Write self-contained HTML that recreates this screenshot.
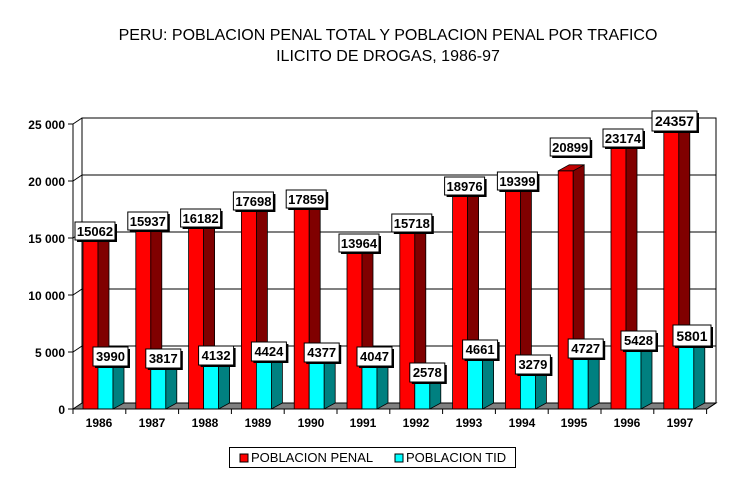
<!DOCTYPE html>
<html><head><style>body{margin:0;background:#fff}svg{display:block}</style></head><body>
<svg width="740" height="488" xmlns="http://www.w3.org/2000/svg" font-family="Liberation Sans, Arial, sans-serif">
<rect width="740" height="488" fill="#fff"/>
<text x="388" y="40" font-size="16" text-anchor="middle">PERU: POBLACION PENAL TOTAL Y POBLACION PENAL POR TRAFICO</text>
<text x="388" y="61" font-size="16" text-anchor="middle">ILICITO DE DROGAS, 1986-97</text>
<!-- back wall -->
<rect x="82" y="118" width="634" height="285" fill="#fff" stroke="#000"/>
<g stroke="#000" stroke-width="1">
<line x1="82" y1="346" x2="716" y2="346"/><line x1="82" y1="289" x2="716" y2="289"/><line x1="82" y1="232" x2="716" y2="232"/><line x1="82" y1="175" x2="716" y2="175"/>
<line x1="73" y1="352" x2="82" y2="346"/><line x1="73" y1="295" x2="82" y2="289"/><line x1="73" y1="238" x2="82" y2="232"/><line x1="73" y1="181" x2="82" y2="175"/><line x1="73" y1="124" x2="82" y2="118"/>
<line x1="82" y1="118" x2="82" y2="403"/>
</g>
<polygon points="73,409 82,403 716,403 707,409" fill="#808080" stroke="#000"/>
<g stroke="#000" stroke-width="0.8">
<!-- bars generated statically -->
<g transform="translate(98,0)"><rect x="-15" y="237.3" width="15" height="171.7" fill="#f00"/><polygon points="0,237.3 11,231.3 11,403 0,409" fill="#800000"/><polygon points="-15,237.3 -4,231.3 11,231.3 0,237.3" fill="#c00000"/><rect x="0" y="363.5" width="15" height="45.5" fill="#0ff"/><polygon points="15,363.5 26,357.5 26,403 15,409" fill="#008080"/><polygon points="0,363.5 11,357.5 26,357.5 15,363.5" fill="#00c0c0"/></g>
<g transform="translate(150.8,0)"><rect x="-15" y="227.3" width="15" height="181.7" fill="#f00"/><polygon points="0,227.3 11,221.3 11,403 0,409" fill="#800000"/><polygon points="-15,227.3 -4,221.3 11,221.3 0,227.3" fill="#c00000"/><rect x="0" y="365.5" width="15" height="43.5" fill="#0ff"/><polygon points="15,365.5 26,359.5 26,403 15,409" fill="#008080"/><polygon points="0,365.5 11,359.5 26,359.5 15,365.5" fill="#00c0c0"/></g>
<g transform="translate(203.6,0)"><rect x="-15" y="224.5" width="15" height="184.5" fill="#f00"/><polygon points="0,224.5 11,218.5 11,403 0,409" fill="#800000"/><polygon points="-15,224.5 -4,218.5 11,218.5 0,224.5" fill="#c00000"/><rect x="0" y="361.9" width="15" height="47.1" fill="#0ff"/><polygon points="15,361.9 26,355.9 26,403 15,409" fill="#008080"/><polygon points="0,361.9 11,355.9 26,355.9 15,361.9" fill="#00c0c0"/></g>
<g transform="translate(256.4,0)"><rect x="-15" y="207.2" width="15" height="201.8" fill="#f00"/><polygon points="0,207.2 11,201.2 11,403 0,409" fill="#800000"/><polygon points="-15,207.2 -4,201.2 11,201.2 0,207.2" fill="#c00000"/><rect x="0" y="358.6" width="15" height="50.4" fill="#0ff"/><polygon points="15,358.6 26,352.6 26,403 15,409" fill="#008080"/><polygon points="0,358.6 11,352.6 26,352.6 15,358.6" fill="#00c0c0"/></g>
<g transform="translate(309.2,0)"><rect x="-15" y="205.4" width="15" height="203.6" fill="#f00"/><polygon points="0,205.4 11,199.4 11,403 0,409" fill="#800000"/><polygon points="-15,205.4 -4,199.4 11,199.4 0,205.4" fill="#c00000"/><rect x="0" y="359.1" width="15" height="49.9" fill="#0ff"/><polygon points="15,359.1 26,353.1 26,403 15,409" fill="#008080"/><polygon points="0,359.1 11,353.1 26,353.1 15,359.1" fill="#00c0c0"/></g>
<g transform="translate(362,0)"><rect x="-15" y="249.8" width="15" height="159.2" fill="#f00"/><polygon points="0,249.8 11,243.8 11,403 0,409" fill="#800000"/><polygon points="-15,249.8 -4,243.8 11,243.8 0,249.8" fill="#c00000"/><rect x="0" y="362.9" width="15" height="46.1" fill="#0ff"/><polygon points="15,362.9 26,356.9 26,403 15,409" fill="#008080"/><polygon points="0,362.9 11,356.9 26,356.9 15,362.9" fill="#00c0c0"/></g>
<g transform="translate(414.8,0)"><rect x="-15" y="229.8" width="15" height="179.2" fill="#f00"/><polygon points="0,229.8 11,223.8 11,403 0,409" fill="#800000"/><polygon points="-15,229.8 -4,223.8 11,223.8 0,229.8" fill="#c00000"/><rect x="0" y="379.6" width="15" height="29.4" fill="#0ff"/><polygon points="15,379.6 26,373.6 26,403 15,409" fill="#008080"/><polygon points="0,379.6 11,373.6 26,373.6 15,379.6" fill="#00c0c0"/></g>
<g transform="translate(467.6,0)"><rect x="-15" y="192.7" width="15" height="216.3" fill="#f00"/><polygon points="0,192.7 11,186.7 11,403 0,409" fill="#800000"/><polygon points="-15,192.7 -4,186.7 11,186.7 0,192.7" fill="#c00000"/><rect x="0" y="355.9" width="15" height="53.1" fill="#0ff"/><polygon points="15,355.9 26,349.9 26,403 15,409" fill="#008080"/><polygon points="0,355.9 11,349.9 26,349.9 15,355.9" fill="#00c0c0"/></g>
<g transform="translate(520.4,0)"><rect x="-15" y="187.9" width="15" height="221.1" fill="#f00"/><polygon points="0,187.9 11,181.9 11,403 0,409" fill="#800000"/><polygon points="-15,187.9 -4,181.9 11,181.9 0,187.9" fill="#c00000"/><rect x="0" y="371.6" width="15" height="37.4" fill="#0ff"/><polygon points="15,371.6 26,365.6 26,403 15,409" fill="#008080"/><polygon points="0,371.6 11,365.6 26,365.6 15,371.6" fill="#00c0c0"/></g>
<g transform="translate(573.2,0)"><rect x="-15" y="170.8" width="15" height="238.2" fill="#f00"/><polygon points="0,170.8 11,164.8 11,403 0,409" fill="#800000"/><polygon points="-15,170.8 -4,164.8 11,164.8 0,170.8" fill="#c00000"/><rect x="0" y="355.1" width="15" height="53.9" fill="#0ff"/><polygon points="15,355.1 26,349.1 26,403 15,409" fill="#008080"/><polygon points="0,355.1 11,349.1 26,349.1 15,355.1" fill="#00c0c0"/></g>
<g transform="translate(626,0)"><rect x="-15" y="144.8" width="15" height="264.2" fill="#f00"/><polygon points="0,144.8 11,138.8 11,403 0,409" fill="#800000"/><polygon points="-15,144.8 -4,138.8 11,138.8 0,144.8" fill="#c00000"/><rect x="0" y="347.1" width="15" height="61.9" fill="#0ff"/><polygon points="15,347.1 26,341.1 26,403 15,409" fill="#008080"/><polygon points="0,347.1 11,341.1 26,341.1 15,347.1" fill="#00c0c0"/></g>
<g transform="translate(678.8,0)"><rect x="-15" y="131.3" width="15" height="277.7" fill="#f00"/><polygon points="0,131.3 11,125.3 11,403 0,409" fill="#800000"/><polygon points="-15,131.3 -4,125.3 11,125.3 0,131.3" fill="#c00000"/><rect x="0" y="342.9" width="15" height="66.1" fill="#0ff"/><polygon points="15,342.9 26,336.9 26,403 15,409" fill="#008080"/><polygon points="0,342.9 11,336.9 26,336.9 15,342.9" fill="#00c0c0"/></g>
</g>
<!-- axes -->
<g stroke="#000">
<line x1="73" y1="124" x2="73" y2="409"/><line x1="73" y1="409" x2="707" y2="409"/>
<line x1="68" y1="124" x2="73" y2="124"/><line x1="68" y1="181" x2="73" y2="181"/><line x1="68" y1="238" x2="73" y2="238"/><line x1="68" y1="295" x2="73" y2="295"/><line x1="68" y1="352" x2="73" y2="352"/><line x1="68" y1="409" x2="73" y2="409"/>
<path d="M73 409v5M125.8 409v5M178.6 409v5M231.4 409v5M284.2 409v5M337 409v5M389.8 409v5M442.6 409v5M495.4 409v5M548.2 409v5M601 409v5M653.8 409v5M706.6 409v5M707 409l9-6"/>
</g>
<g font-size="12" font-weight="bold" text-anchor="end">
<text x="65" y="129">25 000</text><text x="65" y="186">20 000</text><text x="65" y="243">15 000</text><text x="65" y="300">10 000</text><text x="65" y="357">5 000</text><text x="65" y="414">0</text>
</g>
<g font-size="12" font-weight="bold" text-anchor="middle">
<text x="99" y="427">1986</text><text x="152" y="427">1987</text><text x="205" y="427">1988</text><text x="258" y="427">1989</text><text x="311" y="427">1990</text><text x="363" y="427">1991</text><text x="416" y="427">1992</text><text x="469" y="427">1993</text><text x="522" y="427">1994</text><text x="574" y="427">1995</text><text x="627" y="427">1996</text><text x="680" y="427">1997</text>
</g>
<!-- value labels -->
<g font-size="13" font-weight="bold" text-anchor="middle">
<g><rect x="77" y="224" width="40" height="18" fill="#000"/><rect x="75" y="222" width="40" height="18" fill="#fff" stroke="#000"/><text x="95" y="236">15062</text></g>
<g><rect x="129.8" y="214" width="40" height="18" fill="#000"/><rect x="127.8" y="212" width="40" height="18" fill="#fff" stroke="#000"/><text x="147.8" y="226">15937</text></g>
<g><rect x="182.6" y="211" width="40" height="18" fill="#000"/><rect x="180.6" y="209" width="40" height="18" fill="#fff" stroke="#000"/><text x="200.6" y="223">16182</text></g>
<g><rect x="235.4" y="194" width="40" height="18" fill="#000"/><rect x="233.4" y="192" width="40" height="18" fill="#fff" stroke="#000"/><text x="253.4" y="206">17698</text></g>
<g><rect x="288.2" y="192" width="40" height="18" fill="#000"/><rect x="286.2" y="190" width="40" height="18" fill="#fff" stroke="#000"/><text x="306.2" y="204">17859</text></g>
<g><rect x="341" y="236" width="40" height="18" fill="#000"/><rect x="339" y="234" width="40" height="18" fill="#fff" stroke="#000"/><text x="359" y="248">13964</text></g>
<g><rect x="393.8" y="216" width="40" height="18" fill="#000"/><rect x="391.8" y="214" width="40" height="18" fill="#fff" stroke="#000"/><text x="411.8" y="228">15718</text></g>
<g><rect x="446.6" y="179" width="40" height="18" fill="#000"/><rect x="444.6" y="177" width="40" height="18" fill="#fff" stroke="#000"/><text x="464.6" y="191">18976</text></g>
<g><rect x="499.4" y="174" width="40" height="18" fill="#000"/><rect x="497.4" y="172" width="40" height="18" fill="#fff" stroke="#000"/><text x="517.4" y="186">19399</text></g>
<g><rect x="552.2" y="140" width="40" height="18" fill="#000"/><rect x="550.2" y="138" width="40" height="18" fill="#fff" stroke="#000"/><text x="570.2" y="152">20899</text></g>
<g><rect x="605" y="131" width="40" height="18" fill="#000"/><rect x="603" y="129" width="40" height="18" fill="#fff" stroke="#000"/><text x="623" y="143">23174</text></g>
<g font-size="14"><rect x="654" y="113" width="45" height="20" fill="#000"/><rect x="652" y="111" width="45" height="20" fill="#fff" stroke="#000"/><text x="674.5" y="126">24357</text></g>

<g><rect x="95" y="349" width="35" height="19" fill="#000"/><rect x="93" y="347" width="35" height="19" fill="#fff" stroke="#000"/><text x="110.5" y="361">3990</text></g>
<g><rect x="147.8" y="351" width="35" height="19" fill="#000"/><rect x="145.8" y="349" width="35" height="19" fill="#fff" stroke="#000"/><text x="163.3" y="363">3817</text></g>
<g><rect x="200.6" y="348" width="35" height="19" fill="#000"/><rect x="198.6" y="346" width="35" height="19" fill="#fff" stroke="#000"/><text x="216.1" y="360">4132</text></g>
<g><rect x="253.4" y="344" width="35" height="19" fill="#000"/><rect x="251.4" y="342" width="35" height="19" fill="#fff" stroke="#000"/><text x="268.9" y="356">4424</text></g>
<g><rect x="306.2" y="345" width="35" height="19" fill="#000"/><rect x="304.2" y="343" width="35" height="19" fill="#fff" stroke="#000"/><text x="321.7" y="357">4377</text></g>
<g><rect x="359" y="349" width="35" height="19" fill="#000"/><rect x="357" y="347" width="35" height="19" fill="#fff" stroke="#000"/><text x="374.5" y="361">4047</text></g>
<g><rect x="411.8" y="365" width="35" height="19" fill="#000"/><rect x="409.8" y="363" width="35" height="19" fill="#fff" stroke="#000"/><text x="427.3" y="377">2578</text></g>
<g><rect x="464.6" y="342" width="35" height="19" fill="#000"/><rect x="462.6" y="340" width="35" height="19" fill="#fff" stroke="#000"/><text x="480.1" y="354">4661</text></g>
<g><rect x="517.4" y="357" width="35" height="19" fill="#000"/><rect x="515.4" y="355" width="35" height="19" fill="#fff" stroke="#000"/><text x="532.9" y="369">3279</text></g>
<g><rect x="570.2" y="341" width="35" height="19" fill="#000"/><rect x="568.2" y="339" width="35" height="19" fill="#fff" stroke="#000"/><text x="585.7" y="353">4727</text></g>
<g><rect x="623" y="333" width="35" height="19" fill="#000"/><rect x="621" y="331" width="35" height="19" fill="#fff" stroke="#000"/><text x="638.5" y="345">5428</text></g>
<g font-size="14"><rect x="675" y="327" width="38" height="21" fill="#000"/><rect x="673" y="325" width="38" height="21" fill="#fff" stroke="#000"/><text x="692" y="341">5801</text></g>
</g>
<!-- legend -->
<rect x="229.5" y="447.5" width="286" height="20" fill="#fff" stroke="#000"/>
<rect x="240" y="454" width="8" height="8" fill="#f00" stroke="#000"/>
<text x="251" y="462" font-size="13">POBLACION PENAL</text>
<rect x="395" y="454" width="8" height="8" fill="#0ff" stroke="#000"/>
<text x="406" y="462" font-size="13">POBLACION TID</text>
</svg>
</body></html>
